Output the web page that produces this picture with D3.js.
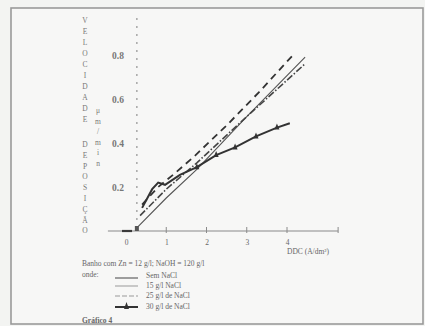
<!DOCTYPE html>
<html><head><meta charset="utf-8">
<script src="https://cdn.jsdelivr.net/npm/d3@7"></script>
<style>html,body{margin:0;padding:0;background:#f3f4f2;}svg{display:block;}</style>
</head><body>
<svg id="c" width="425" height="326"></svg>
<script>
// ---- data ----
const xTicks = [0, 1, 2, 3, 4];
const yTicks = [0.2, 0.4, 0.6, 0.8];
const yTickLabels = ["0.2", "0.4", "0.6", "0.8"];
const seriesNames = ["Sem NaCl", "15 g/l NaCl", "25 g/l de NaCl", "30 g/l de NaCl"];
const semDDC = [0.3, 1.0, 1.76, 3.0, 4.45];
const semV   = [0.02, 0.15, 0.28, 0.52, 0.79];
const g15DDC = [0.35, 1.0, 1.76, 3.0, 4.45];
const g15V   = [0.07, 0.19, 0.31, 0.52, 0.76];
const g25DDC = [0.4, 0.8, 1.2, 1.7, 2.5, 3.3, 4.15];
const g25V   = [0.12, 0.2, 0.26, 0.34, 0.48, 0.63, 0.80];
const g30DDC = [0.4, 0.65, 0.8, 0.97, 1.34, 1.76, 2.24, 2.71, 3.23, 3.75, 4.07];
const g30V   = [0.105, 0.19, 0.22, 0.21, 0.255, 0.29, 0.345, 0.38, 0.43, 0.47, 0.49];
const g30Markers = [1.76, 2.24, 2.71, 3.23, 3.75];
const zeroDDC = [-0.1, 0.15];
const yAxisTitle1 = "VELOCIDADE";
const yAxisTitle2 = "DEPOSIÇÃO";
const yAxisUnit = "μm/min";
const xAxisTitle = "DDC (A/dm²)";
const bathText = "Banho com Zn = 12 g/l; NaOH = 120 g/l";
const ondeText = "onde:";
const figTitle = "Gráfico 4";

// ---- drawing ----
const svg = d3.select("#c");
const ink = "#3a3a3a";
svg.append("rect").attr("x",11).attr("y",8).attr("width",412).attr("height",316)
  .attr("fill","#f7f7f6").attr("stroke","#9a9a9a").attr("stroke-width",1.6);

const x = d3.scaleLinear().domain([0, 4]).range([126, 287]);
const y = d3.scaleLinear().domain([0, 0.8]).range([231, 55]);
const yAxisDDC = 0.27;

// x axis line
svg.append("line").attr("x1", x(-0.45)).attr("x2", x(5.27)).attr("y1", y(0)).attr("y2", y(0))
  .attr("stroke", "#8a8a8a").attr("stroke-width", 1.2);
const xa = svg.append("g").attr("transform", `translate(0,${y(0)})`)
  .call(d3.axisBottom(x).tickValues(xTicks).tickSize(0).tickPadding(9).tickFormat(d3.format("d")));
xa.select(".domain").remove();
xa.selectAll("text").attr("font-family","Liberation Serif").attr("font-size",7.5).attr("fill","#666");
xTicks.filter(d => d > 0).concat([5.27]).forEach(d => {
  svg.append("line").attr("x1", x(d)).attr("x2", x(d)).attr("y1", y(0) - 4).attr("y2", y(0) + 2)
    .attr("stroke", "#8a8a8a").attr("stroke-width", 1);
});
svg.append("text").attr("x", x(4)).attr("y", 254).attr("font-family","Liberation Serif")
  .attr("font-size", 7.5).attr("fill", "#666").text(xAxisTitle);

// y axis (dashed)
svg.append("line").attr("x1", x(yAxisDDC)).attr("x2", x(yAxisDDC)).attr("y1", 18).attr("y2", y(0))
  .attr("stroke", "#9a9a9a").attr("stroke-width", 1.3).attr("stroke-dasharray", "2,6");
svg.selectAll(".yl").data(yTicks).enter().append("text")
  .attr("x", 118).attr("y", d => y(d) + 3.5).attr("text-anchor", "middle")
  .attr("font-family","Liberation Serif").attr("font-size", 9.5).attr("font-weight","bold").attr("fill", "#777")
  .text((d, i) => yTickLabels[i]);

// vertical titles
const stack = (str, x0, y0, step, size) => {
  Array.from(str).forEach((ch, i) => {
    svg.append("text").attr("x", x0).attr("y", y0 + i * step).attr("text-anchor", "middle")
      .attr("font-family","Liberation Serif").attr("font-size", size).attr("fill", "#777").text(ch);
  });
};
stack(yAxisTitle1, 85, 23, 11, 7.5);
stack(yAxisTitle2, 85, 147, 10.8, 7.5);
stack(yAxisUnit, 98, 113, 10.5, 7.5);

// zero segment + marker
svg.append("line").attr("x1", x(zeroDDC[0])).attr("x2", x(zeroDDC[1])).attr("y1", y(0)).attr("y2", y(0))
  .attr("stroke", ink).attr("stroke-width", 2.2);
svg.append("rect").attr("x", x(yAxisDDC) - 2).attr("y", y(0) - 5).attr("width", 4).attr("height", 5)
  .attr("fill", "#555");

const line = d3.line().x(d => x(d[0])).y(d => y(d[1]));
const zip = (a, b) => a.map((v, i) => [v, b[i]]);
svg.append("path").attr("d", line(zip(semDDC, semV))).attr("fill","none").attr("stroke","#555").attr("stroke-width",1.1);
svg.append("path").attr("d", line(zip(g15DDC, g15V))).attr("fill","none").attr("stroke","#444").attr("stroke-width",1.6)
  .attr("stroke-dasharray","7,2,1.5,2");
svg.append("path").attr("d", line(zip(g25DDC, g25V))).attr("fill","none").attr("stroke","#333").attr("stroke-width",1.8)
  .attr("stroke-dasharray","7,5");
svg.append("path").attr("d", line(zip(g30DDC, g30V))).attr("fill","none").attr("stroke","#333").attr("stroke-width",2);
const interp = d3.scaleLinear().domain(g30DDC).range(g30V);
g30Markers.forEach(d => {
  const px = x(d), py = y(interp(d));
  svg.append("path").attr("d", `M${px - 2.5},${py + 2}L${px},${py - 4}L${px + 2.5},${py + 2}Z`).attr("fill", "#333");
});

// legend
const lt = (t, xx, yy, opts = {}) => svg.append("text").attr("x", xx).attr("y", yy)
  .attr("font-family","Liberation Serif").attr("font-size", 7.5).attr("fill", "#666")
  .attr("font-weight", opts.bold ? "bold" : null).text(t);
lt(bathText, 82, 266);
lt(ondeText, 82, 277);
const legY = [278, 286, 296, 307];
const legTextY = [278, 288, 298, 309];
const legStyles = [
  {w:1.1, c:"#555", dash:null},
  {w:1, c:"#999", dash:null},
  {w:1, c:"#999", dash:"5,2"},
  {w:2, c:"#333", dash:null}
];
seriesNames.forEach((n, i) => {
  const s = legStyles[i];
  svg.append("line").attr("x1", 115).attr("x2", 138).attr("y1", legY[i]).attr("y2", legY[i])
    .attr("stroke", s.c).attr("stroke-width", s.w).attr("stroke-dasharray", s.dash);
  lt(n, 146, legTextY[i]);
});
svg.append("path").attr("d", `M124,${legY[3] + 2}L126.5,${legY[3] - 5}L129,${legY[3] + 2}Z`).attr("fill", "#333");
lt(figTitle, 82, 323, {bold: true});
</script>
</body></html>
